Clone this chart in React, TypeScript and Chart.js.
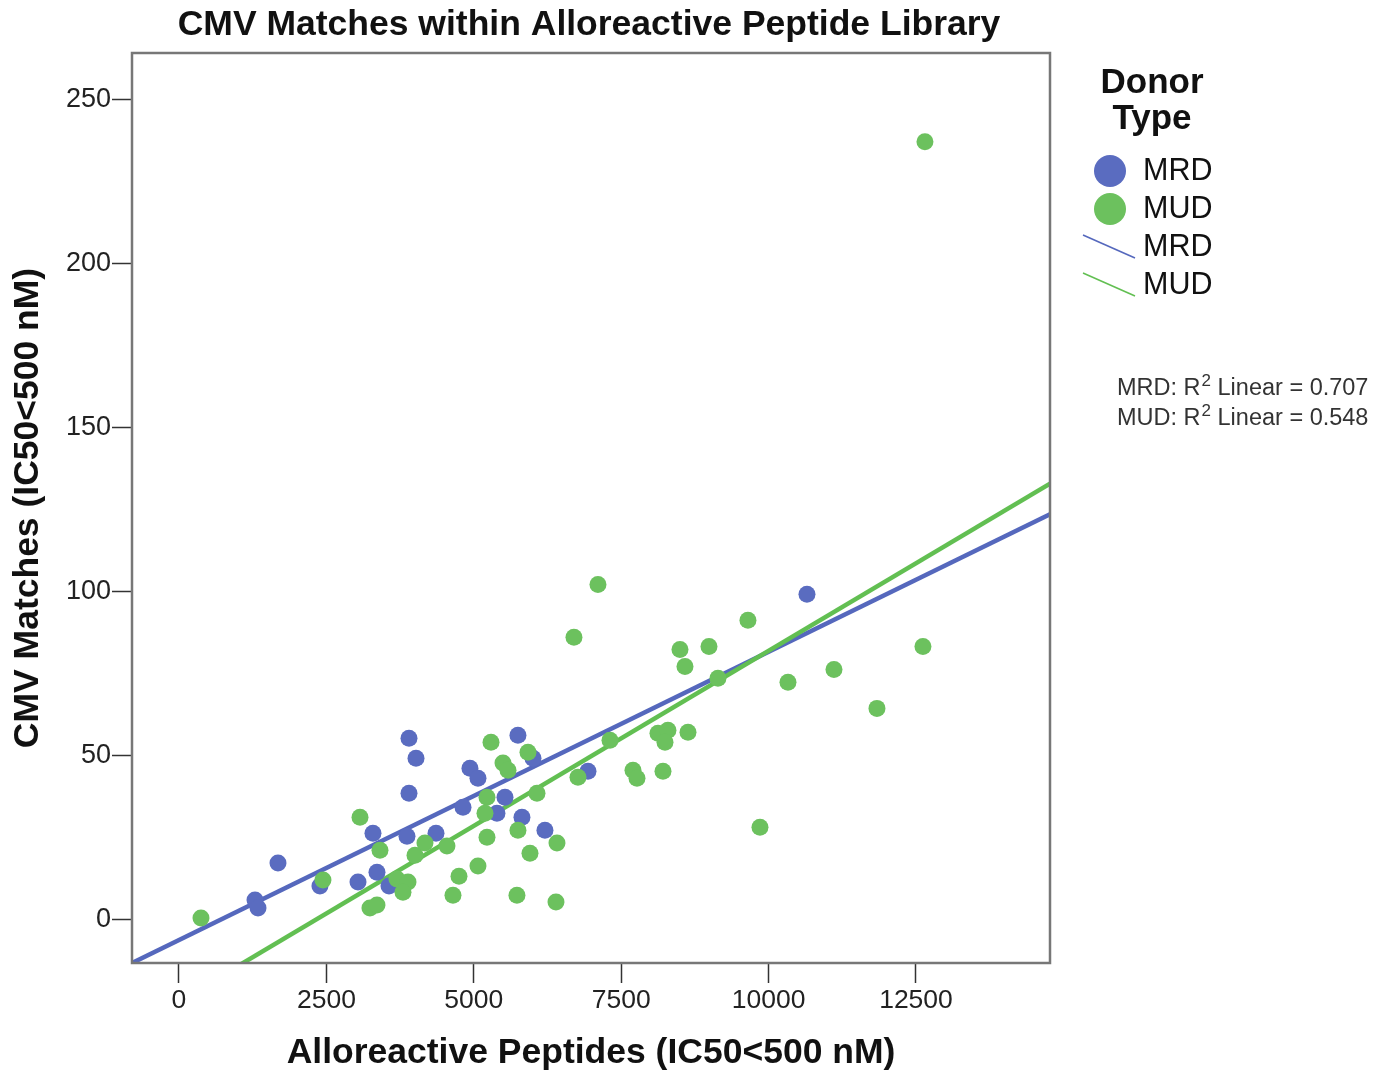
import React, { useEffect, useRef } from "react";
import { Chart, registerables } from "chart.js";

Chart.register(...registerables);

const FONT = '"Liberation Sans", Arial, Helvetica, sans-serif';

const chartTitle = "CMV Matches within Alloreactive Peptide Library";
const xAxisTitle = "Alloreactive Peptides (IC50<500 nM)";
const yAxisTitle = "CMV Matches (IC50<500 nM)";
const legendTitle = ["Donor", "Type"];
const seriesNames = ["MRD", "MUD"];
const r2Values = ["0.707", "0.548"];

const xTicks = [0, 2500, 5000, 7500, 10000, 12500];
const yTicks = [0, 50, 100, 150, 200, 250];
const xRange = [-797, 14773];
const yRange = [-13.4, 264.3];

const mrdX = [1289, 1340, 1679, 2391, 3036, 3290, 3358, 3562, 3867, 3901, 4020, 3901, 4359, 4817, 4935, 5071, 5529, 5393, 5749, 6004, 5817, 6207, 6937, 10651];
const mrdY = [5.8, 3.4, 17.1, 10.1, 11.3, 26.2, 14.3, 10.1, 25.3, 55.2, 49.1, 38.4, 26.2, 34.1, 46.0, 43.0, 37.2, 32.3, 56.1, 49.1, 31.1, 27.1, 45.1, 99.1];

const mudX = [373, 2442, 3070, 3409, 3239, 3358, 3697, 3884, 3799, 4003, 4172, 4545, 5292, 5919, 5495, 5580, 5224, 5190, 6072, 6767, 7310, 5224, 5749, 6411, 5953, 5071, 4749, 4647, 5732, 6394, 7106, 6699, 8497, 8582, 8989, 9650, 9141, 10329, 11109, 12618, 11838, 9854, 12652, 8124, 8293, 8243, 8633, 7700, 7768, 8209];
const mudY = [0.3, 11.9, 31.1, 21.0, 3.4, 4.3, 12.2, 11.3, 8.2, 19.5, 23.2, 22.3, 54.0, 50.9, 47.6, 45.4, 37.2, 32.3, 38.4, 43.3, 54.6, 25.0, 27.1, 23.2, 20.1, 16.2, 13.1, 7.3, 7.3, 5.2, 102.1, 86.0, 82.3, 77.1, 83.2, 91.2, 73.5, 72.3, 76.2, 83.2, 64.3, 28.0, 237.2, 56.7, 57.6, 54.0, 57.0, 45.4, 43.0, 45.1];

// fitted regression lines: [slope, intercept]
const mrdFit = [0.008793, -6.39];
const mudFit = [0.010688, -25.0];

const BLUE = "#5a6cc0";
const GREEN = "#6cc15e";
const BLUE_LINE = "#5568bd";
const GREEN_LINE = "#62bf52";

function toPoints(xs: number[], ys: number[]) {
  return xs.map((x, i) => ({ x, y: ys[i] }));
}

function fitLine(fit: number[]) {
  return xRange.map((x) => ({ x, y: fit[0] * x + fit[1] }));
}

const overlayPlugin = {
  id: "overlay",
  afterDraw(chart: any) {
    const { ctx, chartArea: a } = chart;
    ctx.save();
    // frame
    ctx.strokeStyle = "#777777";
    ctx.lineWidth = 2.5;
    ctx.strokeRect(a.left, a.top, a.right - a.left, a.bottom - a.top);

    // chart title
    ctx.fillStyle = "#111111";
    ctx.textBaseline = "middle";
    ctx.textAlign = "center";
    ctx.font = `bold 35.5px ${FONT}`;
    ctx.fillText(chartTitle, (a.left + a.right) / 2 - 2, 25);

    // legend title
    ctx.font = `bold 35px ${FONT}`;
    ctx.fillText(legendTitle[0], 1152, 83);
    ctx.fillText(legendTitle[1], 1152, 119);

    // legend entries
    ctx.textAlign = "left";
    ctx.font = `30.5px ${FONT}`;
    const colors = [BLUE, GREEN];
    const lineColors = [BLUE_LINE, GREEN_LINE];
    for (let i = 0; i < 2; i++) {
      const cy = 171 + i * 38;
      ctx.fillStyle = colors[i];
      ctx.beginPath();
      ctx.arc(1110, cy, 16, 0, Math.PI * 2);
      ctx.fill();
      ctx.fillStyle = "#111111";
      ctx.fillText(seriesNames[i], 1143, cy + 1);
    }
    for (let i = 0; i < 2; i++) {
      const cy = 247 + i * 38;
      ctx.strokeStyle = lineColors[i];
      ctx.lineWidth = 1.6;
      ctx.beginPath();
      ctx.moveTo(1083, cy - 12);
      ctx.lineTo(1135, cy + 11);
      ctx.stroke();
      ctx.fillStyle = "#111111";
      ctx.fillText(seriesNames[i], 1143, cy + 1);
    }

    // R squared annotations
    ctx.fillStyle = "#333333";
    for (let i = 0; i < 2; i++) {
      const y = 389 + i * 30;
      let x = 1117;
      ctx.font = `23.5px ${FONT}`;
      const a1 = `${seriesNames[i]}: R`;
      ctx.fillText(a1, x, y);
      x += ctx.measureText(a1).width;
      ctx.font = `17px ${FONT}`;
      ctx.fillText("2", x + 1, y - 8);
      x += ctx.measureText("2").width + 1;
      ctx.font = `23.5px ${FONT}`;
      ctx.fillText(` Linear = ${r2Values[i]}`, x, y);
    }
    ctx.restore();
  },
};

export default function App() {
  const canvasRef = useRef<HTMLCanvasElement | null>(null);

  useEffect(() => {
    if (!canvasRef.current) return;
    const chart = new Chart(canvasRef.current, {
      type: "scatter",
      data: {
        datasets: [
          {
            label: "MUD",
            data: toPoints(mudX, mudY),
            backgroundColor: GREEN,
            borderColor: GREEN,
            borderWidth: 0,
            pointRadius: 8.5,
            pointHoverRadius: 8.5,
            order: 0,
          },
          {
            label: "MRD",
            data: toPoints(mrdX, mrdY),
            backgroundColor: BLUE,
            borderColor: BLUE,
            borderWidth: 0,
            pointRadius: 8.5,
            pointHoverRadius: 8.5,
            order: 1,
          },
          {
            type: "line",
            label: "MRD fit",
            data: fitLine(mrdFit),
            borderColor: BLUE_LINE,
            borderWidth: 4.5,
            pointRadius: 0,
            showLine: true,
            fill: false,
            clip: 0,
            order: 3,
          } as any,
          {
            type: "line",
            label: "MUD fit",
            data: fitLine(mudFit),
            borderColor: GREEN_LINE,
            borderWidth: 4.5,
            pointRadius: 0,
            showLine: true,
            fill: false,
            clip: 0,
            order: 2,
          } as any,
        ],
      },
      options: {
        animation: false,
        responsive: false,
        maintainAspectRatio: false,
        devicePixelRatio: 1,
        layout: { padding: { top: 53, right: 345, left: 0, bottom: 0 } },
        plugins: {
          legend: { display: false },
          tooltip: { enabled: false },
          title: { display: false },
        },
        scales: {
          x: {
            type: "linear",
            min: xRange[0],
            max: xRange[1],
            afterBuildTicks: (scale: any) => {
              scale.ticks = xTicks.map((v) => ({ value: v }));
            },
            afterFit: (scale: any) => {
              scale.height = 109;
            },
            ticks: {
              color: "#222222",
              font: { family: FONT, size: 26.5 },
              padding: 2,
              maxRotation: 0,
              autoSkip: false,
              callback: (v: any) => String(v),
            },
            grid: {
              drawOnChartArea: false,
              drawTicks: true,
              tickLength: 20,
              tickColor: "#333333",
              tickWidth: 1.5,
            },
            border: { display: false },
            title: {
              display: true,
              text: xAxisTitle,
              color: "#111111",
              font: { family: FONT, size: 35.5, weight: "bold", lineHeight: 1.0 },
              padding: { top: 0, bottom: 1 },
            },
          },
          y: {
            type: "linear",
            min: yRange[0],
            max: yRange[1],
            afterBuildTicks: (scale: any) => {
              scale.ticks = yTicks.map((v) => ({ value: v }));
            },
            afterFit: (scale: any) => {
              scale.width = 132;
            },
            ticks: {
              color: "#222222",
              font: { family: FONT, size: 27 },
              padding: 1,
              autoSkip: false,
              callback: (v: any) => String(v),
            },
            grid: {
              drawOnChartArea: false,
              drawTicks: true,
              tickLength: 20,
              tickColor: "#333333",
              tickWidth: 1.5,
            },
            border: { display: false },
            title: {
              display: true,
              text: yAxisTitle,
              color: "#111111",
              font: { family: FONT, size: 35.5, weight: "bold", lineHeight: 1.1 },
              padding: { top: 9, bottom: 0 },
            },
          },
        },
      } as any,
      plugins: [overlayPlugin],
    });
    return () => chart.destroy();
  }, []);

  return (
    <div style={{ position: "fixed", left: 0, top: 0, width: 1395, height: 1072, background: "#ffffff" }}>
      <canvas ref={canvasRef} width={1395} height={1072} style={{ width: 1395, height: 1072, display: "block" }} />
    </div>
  );
}
